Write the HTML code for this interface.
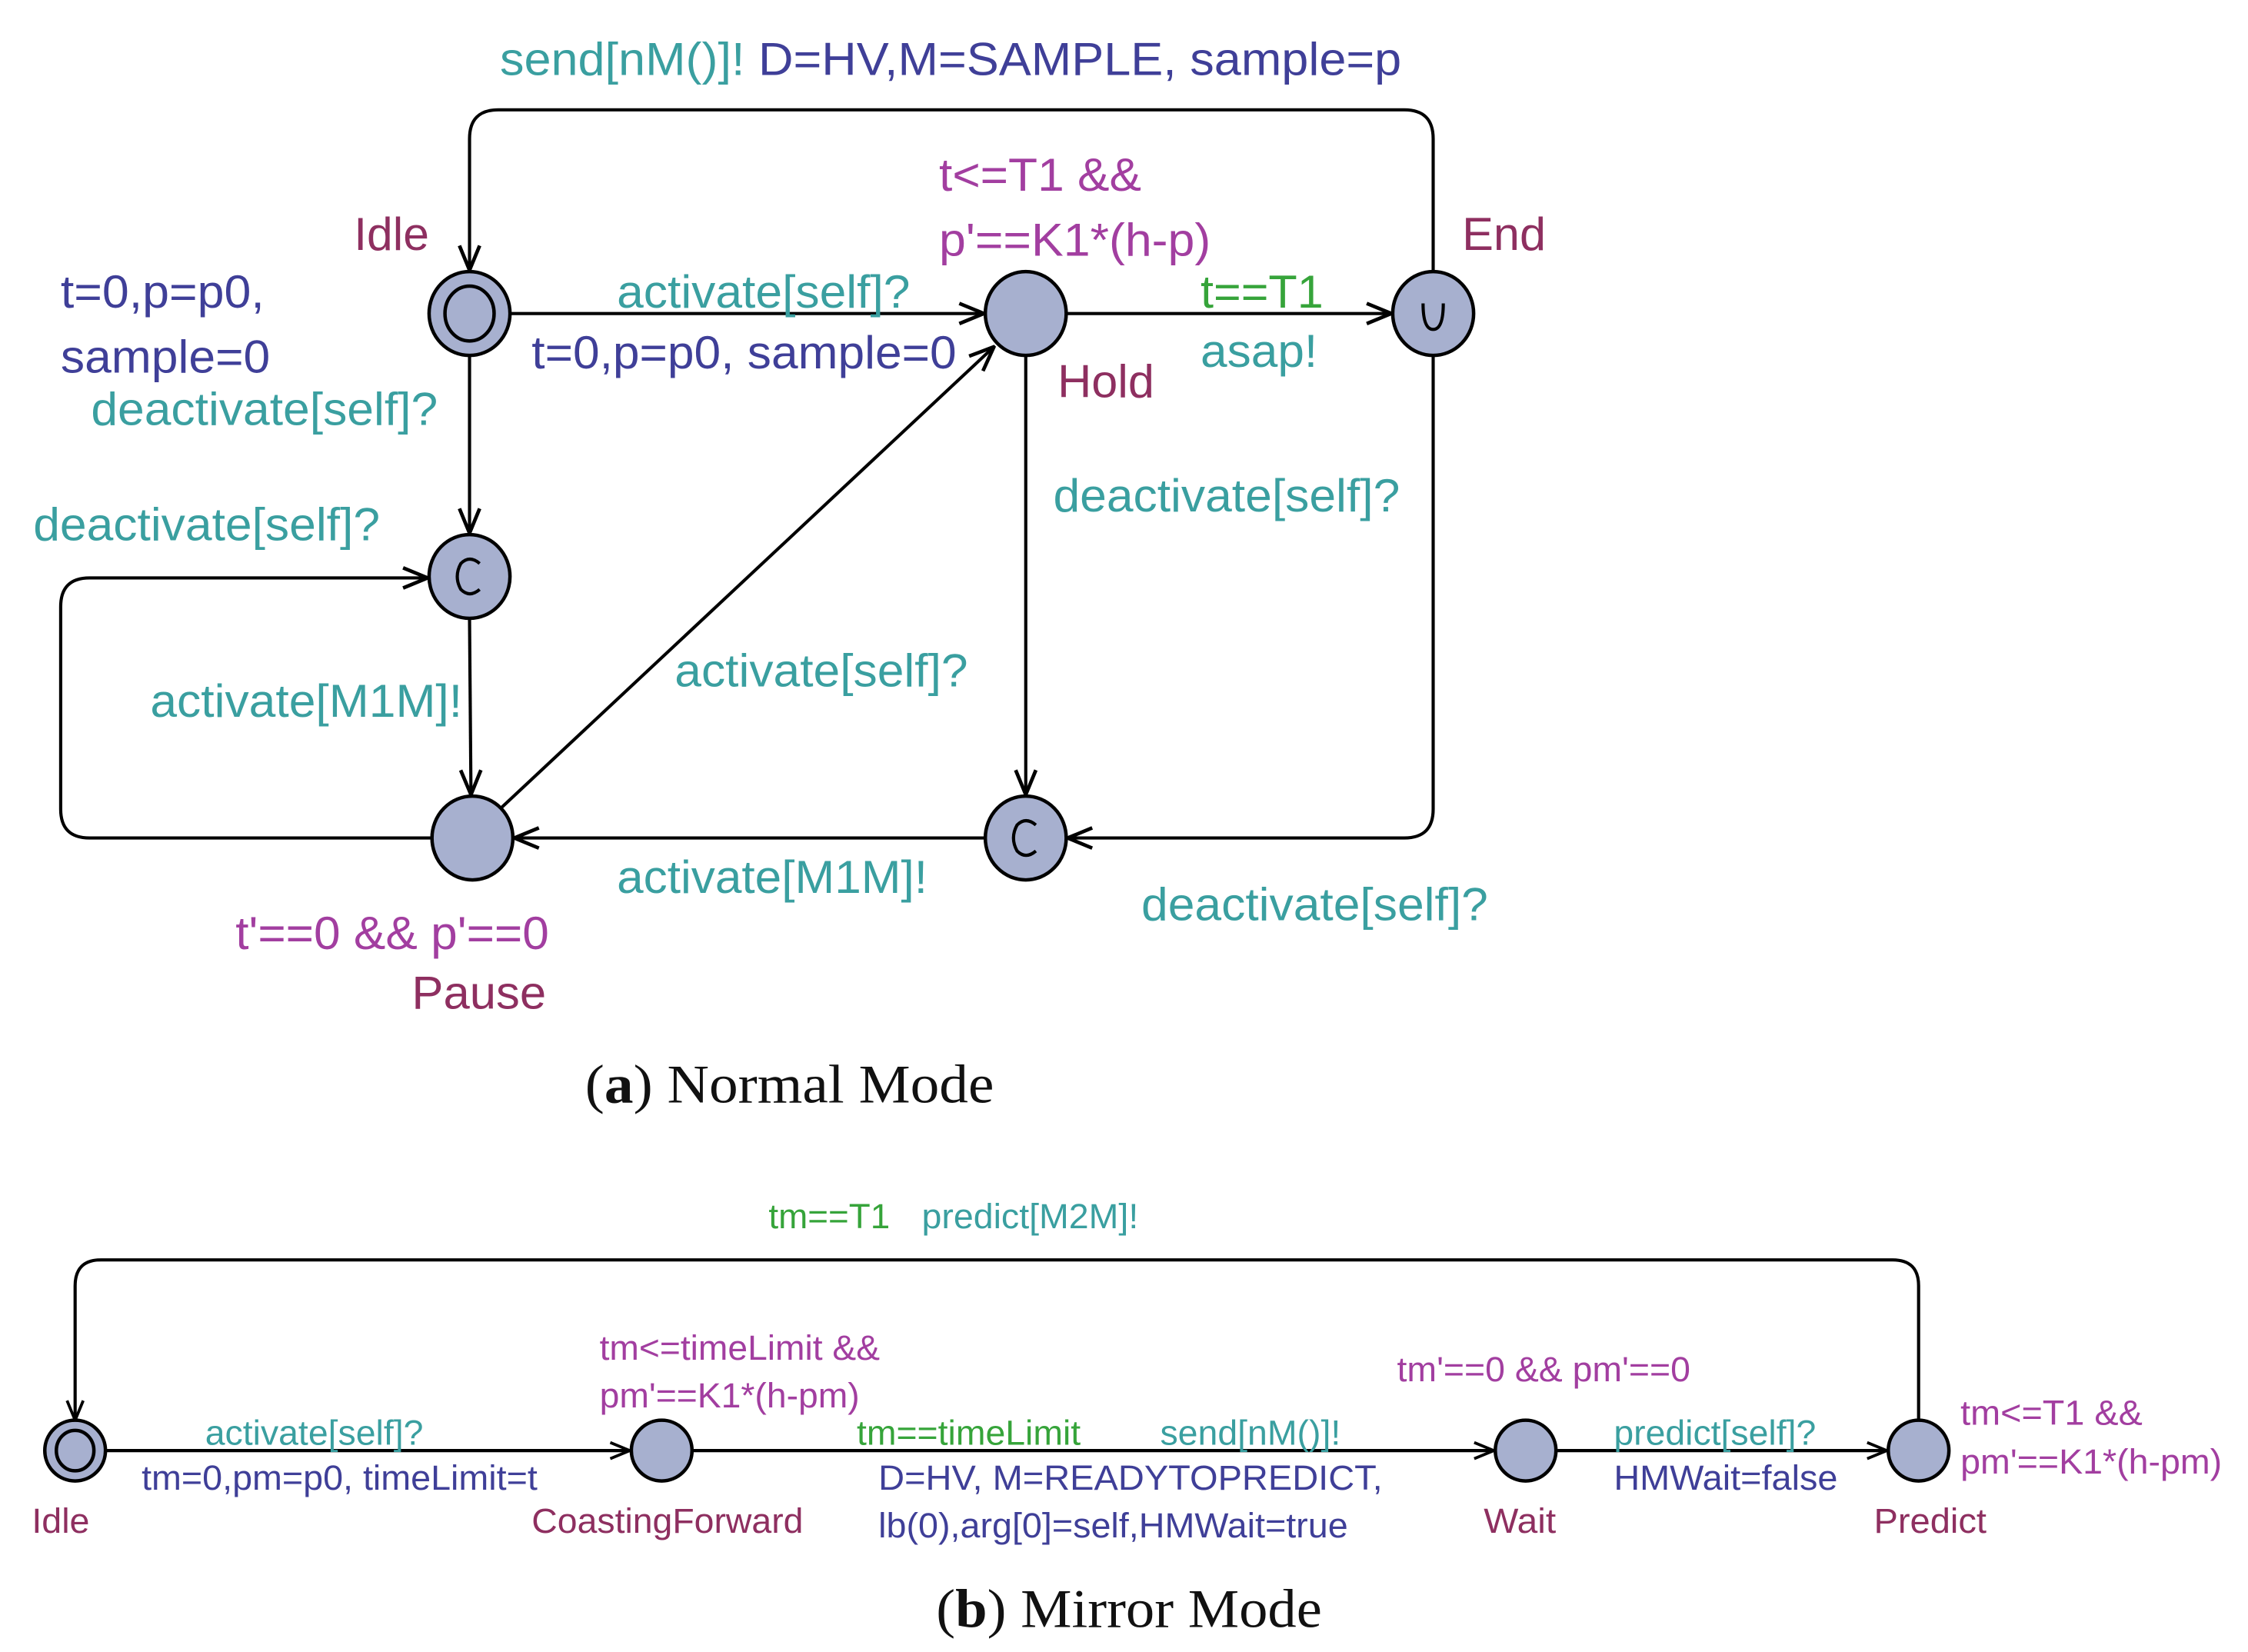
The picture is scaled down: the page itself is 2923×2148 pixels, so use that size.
<!DOCTYPE html>
<html><head><meta charset="utf-8"><style>
html,body{margin:0;padding:0;background:#fff;}
svg{display:block;}
text{font-family:"Liberation Sans",sans-serif;}
.t{fill:#3a9fa0}.b{fill:#3f3f98}.m{fill:#a23ea0}.n{fill:#8e2f60}.g{fill:#36a43a}
.cap{font-family:"Liberation Serif",serif;fill:#111}
</style></head><body>
<svg width="2923" height="2148" viewBox="0 0 1556 1143.4" preserveAspectRatio="none" xmlns="http://www.w3.org/2000/svg">
<defs>
<marker id="a" viewBox="0 0 20 20" refX="19" refY="10" markerWidth="20" markerHeight="20" markerUnits="userSpaceOnUse" orient="auto">
<path d="M2,3 L19,10 L2,17" fill="none" stroke="#000" stroke-width="2.5"/>
</marker>
<marker id="a2" viewBox="0 0 20 20" refX="19" refY="10" markerWidth="16" markerHeight="16" markerUnits="userSpaceOnUse" orient="auto">
<path d="M2,3 L19,10 L2,17" fill="none" stroke="#000" stroke-width="2.5"/>
</marker>
</defs>
<g fill="none" stroke="#000" stroke-width="2.2">
<path d="M353,217 H681" marker-end="url(#a)"/>
<path d="M739,217 H963" marker-end="url(#a)"/>
<path d="M992,188 V96 Q992,76 972,76 H345 Q325,76 325,96 V187" marker-end="url(#a)"/>
<path d="M325,247 V369" marker-end="url(#a)"/>
<path d="M325,429 L326,550" marker-end="url(#a)"/>
<path d="M710,247 V550" marker-end="url(#a)"/>
<path d="M992,247 V560 Q992,580 972,580 H739" marker-end="url(#a)"/>
<path d="M681,580 H356" marker-end="url(#a)"/>
<path d="M346,560 L688,240" marker-end="url(#a)"/>
<path d="M298,580 H62 Q42,580 42,560 V420 Q42,400 62,400 H296" marker-end="url(#a)"/>
<path d="M73,1004 H436" marker-end="url(#a2)"/>
<path d="M480,1004 H1034" marker-end="url(#a2)"/>
<path d="M1078,1004 H1306" marker-end="url(#a2)"/>
<path d="M1328,983 V890 Q1328,872 1310,872 H70 Q52,872 52,890 V983" marker-end="url(#a2)"/>
</g>
<g fill="#a7b0cf" stroke="#000" stroke-width="2.4">
<ellipse cx="325" cy="217" rx="28" ry="29"/>
<ellipse cx="325" cy="217" rx="17" ry="19" fill="none"/>
<ellipse cx="710" cy="217" rx="28" ry="29"/>
<ellipse cx="992" cy="217" rx="28" ry="29"/>
<ellipse cx="325" cy="399" rx="28" ry="29"/>
<ellipse cx="327" cy="580" rx="28" ry="29"/>
<ellipse cx="710" cy="580" rx="28" ry="29"/>
<ellipse cx="52" cy="1004" rx="21" ry="21"/>
<ellipse cx="52" cy="1004" rx="13" ry="14" fill="none"/>
<ellipse cx="458" cy="1004" rx="21" ry="21"/>
<ellipse cx="1056" cy="1004" rx="21" ry="21"/>
<ellipse cx="1328" cy="1004" rx="21" ry="21"/>
</g>
<g fill="none" stroke="#000" stroke-width="2.2">
<path d="M985,210 Q985,228 992,228 Q999,228 999,210"/>
<path d="M332,390 Q325,384 319,390 Q314,399 319,408 Q325,414 332,408"/>
<path d="M717,571 Q710,565 704,571 Q699,580 704,589 Q710,595 717,589"/>
</g>
<g font-size="32" lengthAdjust="spacingAndGlyphs">
<text x="346" y="52" textLength="624" lengthAdjust="spacingAndGlyphs" class="t">send[nM()]! <tspan class="b">D=HV,M=SAMPLE, sample=p</tspan></text>
<text x="245" y="173" textLength="52" lengthAdjust="spacingAndGlyphs" class="n">Idle</text>
<text x="1012" y="173" textLength="58" lengthAdjust="spacingAndGlyphs" class="n">End</text>
<text x="732" y="275" textLength="67" lengthAdjust="spacingAndGlyphs" class="n">Hold</text>
<text x="650" y="132" textLength="140" lengthAdjust="spacingAndGlyphs" class="m">t&lt;=T1 &amp;&amp;</text>
<text x="650" y="177" textLength="188" lengthAdjust="spacingAndGlyphs" class="m">p'==K1*(h-p)</text>
<text x="42" y="213" textLength="141" lengthAdjust="spacingAndGlyphs" class="b">t=0,p=p0,</text>
<text x="42" y="258" textLength="145" lengthAdjust="spacingAndGlyphs" class="b">sample=0</text>
<text x="427" y="213" textLength="203" lengthAdjust="spacingAndGlyphs" class="t">activate[self]?</text>
<text x="368" y="255" textLength="294" lengthAdjust="spacingAndGlyphs" class="b">t=0,p=p0, sample=0</text>
<text x="831" y="213" textLength="85" lengthAdjust="spacingAndGlyphs" class="g">t==T1</text>
<text x="831" y="254" textLength="81" lengthAdjust="spacingAndGlyphs" class="t">asap!</text>
<text x="63" y="294" textLength="240" lengthAdjust="spacingAndGlyphs" class="t">deactivate[self]?</text>
<text x="23" y="374" textLength="240" lengthAdjust="spacingAndGlyphs" class="t">deactivate[self]?</text>
<text x="729" y="354" textLength="240" lengthAdjust="spacingAndGlyphs" class="t">deactivate[self]?</text>
<text x="104" y="496" textLength="216" lengthAdjust="spacingAndGlyphs" class="t">activate[M1M]!</text>
<text x="467" y="475" textLength="203" lengthAdjust="spacingAndGlyphs" class="t">activate[self]?</text>
<text x="427" y="618" textLength="215" lengthAdjust="spacingAndGlyphs" class="t">activate[M1M]!</text>
<text x="790" y="637" textLength="240" lengthAdjust="spacingAndGlyphs" class="t">deactivate[self]?</text>
<text x="163" y="657" textLength="217" lengthAdjust="spacingAndGlyphs" class="m">t'==0 &amp;&amp; p'==0</text>
<text x="285" y="698" textLength="93" lengthAdjust="spacingAndGlyphs" class="n">Pause</text>
</g>
<text x="405" y="763" textLength="283" lengthAdjust="spacingAndGlyphs" class="cap" font-size="38">(<tspan font-weight="bold">a</tspan>) Normal Mode</text>
<g font-size="24">
<text x="532" y="850" textLength="84" lengthAdjust="spacingAndGlyphs" class="g">tm==T1</text>
<text x="638" y="850" textLength="150" lengthAdjust="spacingAndGlyphs" class="t">predict[M2M]!</text>
<text x="415" y="941" textLength="194" lengthAdjust="spacingAndGlyphs" class="m">tm&lt;=timeLimit &amp;&amp;</text>
<text x="415" y="974" textLength="180" lengthAdjust="spacingAndGlyphs" class="m">pm'==K1*(h-pm)</text>
<text x="967" y="956" textLength="203" lengthAdjust="spacingAndGlyphs" class="m">tm'==0 &amp;&amp; pm'==0</text>
<text x="1357" y="986" textLength="126" lengthAdjust="spacingAndGlyphs" class="m">tm&lt;=T1 &amp;&amp;</text>
<text x="1357" y="1020" textLength="181" lengthAdjust="spacingAndGlyphs" class="m">pm'==K1*(h-pm)</text>
<text x="142" y="1000" textLength="151" lengthAdjust="spacingAndGlyphs" class="t">activate[self]?</text>
<text x="98" y="1031" textLength="274" lengthAdjust="spacingAndGlyphs" class="b">tm=0,pm=p0, timeLimit=t</text>
<text x="593" y="1000" textLength="155" lengthAdjust="spacingAndGlyphs" class="g">tm==timeLimit</text>
<text x="803" y="1000" textLength="125" lengthAdjust="spacingAndGlyphs" class="t">send[nM()]!</text>
<text x="608" y="1031" textLength="349" lengthAdjust="spacingAndGlyphs" class="b">D=HV, M=READYTOPREDICT,</text>
<text x="608" y="1064" textLength="325" lengthAdjust="spacingAndGlyphs" class="b">lb(0),arg[0]=self,HMWait=true</text>
<text x="1117" y="1000" textLength="140" lengthAdjust="spacingAndGlyphs" class="t">predict[self]?</text>
<text x="1117" y="1031" textLength="155" lengthAdjust="spacingAndGlyphs" class="b">HMWait=false</text>
<text x="22" y="1061" textLength="40" lengthAdjust="spacingAndGlyphs" class="n">Idle</text>
<text x="368" y="1061" textLength="188" lengthAdjust="spacingAndGlyphs" class="n">CoastingForward</text>
<text x="1027" y="1061" textLength="50" lengthAdjust="spacingAndGlyphs" class="n">Wait</text>
<text x="1297" y="1061" textLength="78" lengthAdjust="spacingAndGlyphs" class="n">Predict</text>
</g>
<text x="648" y="1126" textLength="267" lengthAdjust="spacingAndGlyphs" class="cap" font-size="38">(<tspan font-weight="bold">b</tspan>) Mirror Mode</text>
</svg>
</body></html>
